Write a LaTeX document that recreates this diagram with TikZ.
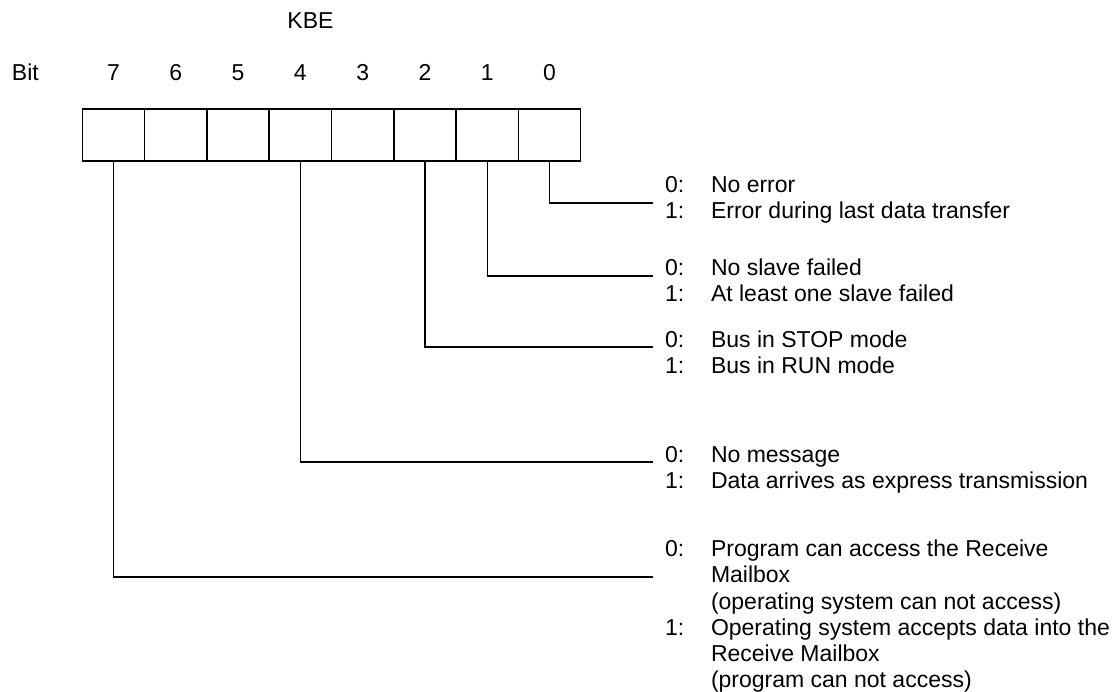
\documentclass[tikz,border=0pt]{standalone}
\usepackage{fontspec}
\setmainfont{Liberation Sans}
\begin{document}
\begin{tikzpicture}[x=1pt,y=-1pt,
  txt/.style={inner sep=0pt, outer sep=0pt, font=\fontsize{23}{26}\selectfont},
  cell/.style={draw, line width=1.5pt, minimum width=62.3pt, minimum height=52pt, inner sep=0pt, outer sep=0pt},
  wire/.style={line width=1.5pt}]
\useasboundingbox (0,0) rectangle (1120,692);

\node[txt, anchor=base] (kbe) at (310.5,29) {KBE};
\node[txt, anchor=base west] (bit) at (12,81) {Bit};

\foreach \i in {0,...,7} {
  \node[cell] (c\i) at ({113.45+(7-\i)*62.3},135) {};
  \node[txt, anchor=base] (d\i) at ({113.45+(7-\i)*62.3},81) {\i};
}

% end points of connectors
\coordinate (e0) at (653,203);
\coordinate (e1) at (653,276);
\coordinate (e2) at (653,347);
\coordinate (e4) at (653,462);
\coordinate (e7) at (653,577);

\draw[wire] (c0.south) |- (e0);
\draw[wire] (c1.south) |- (e1);
\draw[wire] (c2.south) |- (e2);
\draw[wire] (c4.south) |- (e4);
\draw[wire] (c7.south) |- (e7);

% bit 0
\node[txt, anchor=base west] (k0a) at (665,193) {0:};
\node[txt, anchor=base west] (t0a) at (711,193) {No error};
\node[txt, anchor=base west] (k0b) at (665,219) {1:};
\node[txt, anchor=base west] (t0b) at (711,219) {Error during last data transfer};
% bit 1
\node[txt, anchor=base west] (k1a) at (665,276) {0:};
\node[txt, anchor=base west] (t1a) at (711,276) {No slave failed};
\node[txt, anchor=base west] (k1b) at (665,302) {1:};
\node[txt, anchor=base west] (t1b) at (711,302) {At least one slave failed};
% bit 2
\node[txt, anchor=base west] (k2a) at (665,348) {0:};
\node[txt, anchor=base west] (t2a) at (711,348) {Bus in STOP mode};
\node[txt, anchor=base west] (k2b) at (665,374) {1:};
\node[txt, anchor=base west] (t2b) at (711,374) {Bus in RUN mode};
% bit 4
\node[txt, anchor=base west] (k4a) at (665,463) {0:};
\node[txt, anchor=base west] (t4a) at (711,463) {No message};
\node[txt, anchor=base west] (k4b) at (665,489) {1:};
\node[txt, anchor=base west] (t4b) at (711,489) {Data arrives as express transmission};
% bit 7
\node[txt, anchor=base west] (k7a) at (665,557) {0:};
\node[txt, anchor=base west] (t7a) at (711,557) {Program can access the Receive};
\node[txt, anchor=base west] (t7b) at (711,583) {Mailbox};
\node[txt, anchor=base west] (t7c) at (711,609) {(operating system can not access)};
\node[txt, anchor=base west] (k7b) at (665,635) {1:};
\node[txt, anchor=base west] (t7d) at (711,635) {Operating system accepts data into the};
\node[txt, anchor=base west] (t7e) at (711,661) {Receive Mailbox};
\node[txt, anchor=base west] (t7f) at (711,687) {(program can not access)};
\end{tikzpicture}
\end{document}
